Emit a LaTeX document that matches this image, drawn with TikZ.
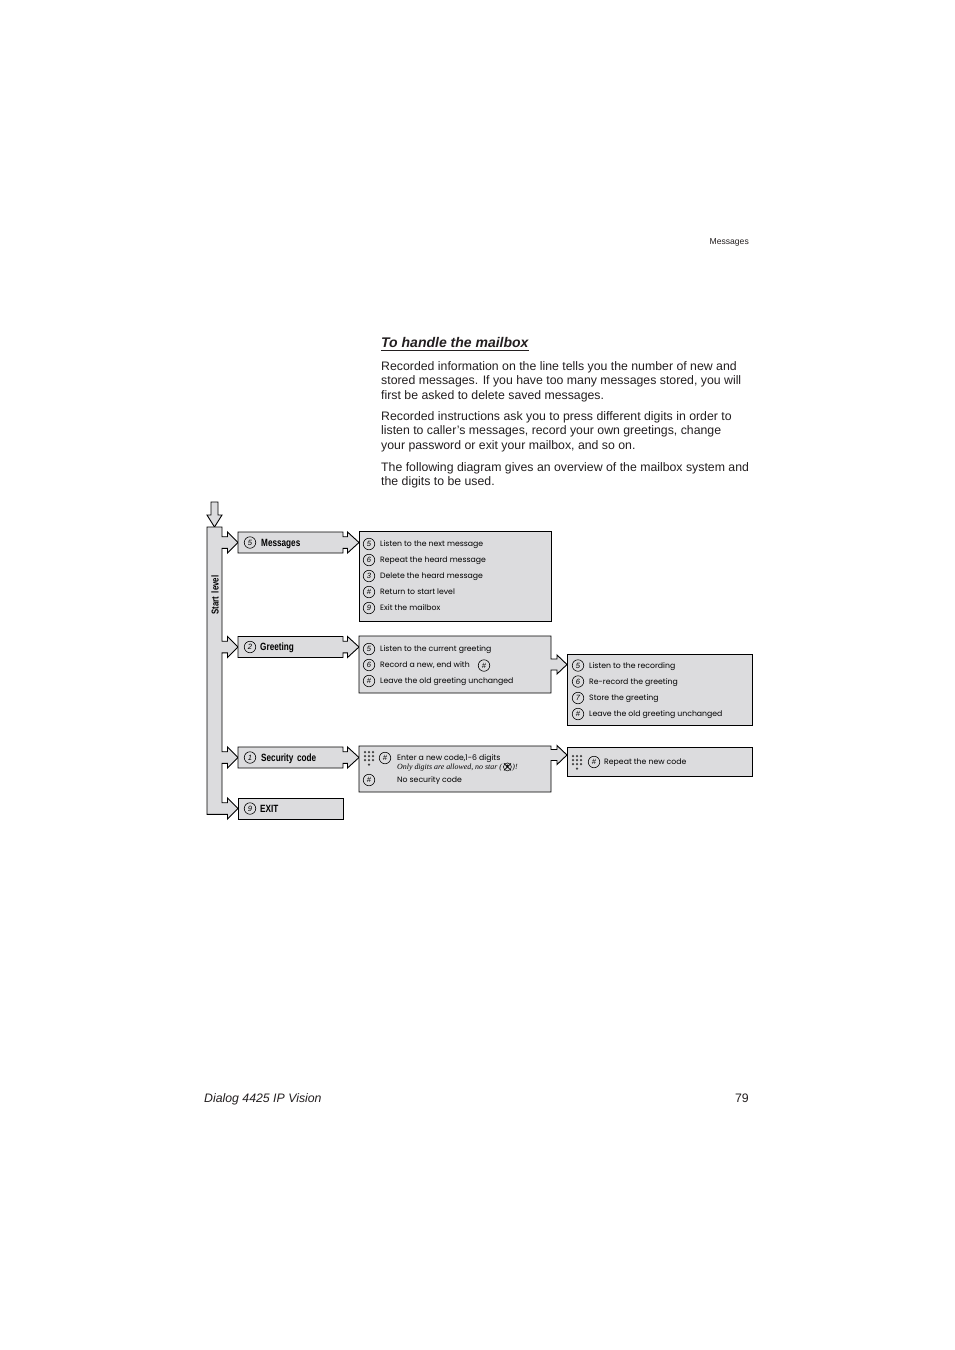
\documentclass[tikz,border=0pt]{standalone}
\usepackage{fontspec}
\setmainfont{Liberation Sans}
\newfontfamily\rowfont{Poppins}
\newfontfamily\condbold[FakeStretch=0.78]{Liberation Sans Bold}
\newfontfamily\serifit{Liberation Serif Italic}
\definecolor{ink}{HTML}{231F20}
\definecolor{boxgray}{HTML}{DCDCDE}
\definecolor{pipegray}{HTML}{DCDCDE}
\definecolor{dotgray}{HTML}{404040}
\newcommand\mykeypad[2]{%
  \foreach \dx in {-4,0,4}{\foreach \dy in {-6,-2,2}{%
    \fill[dotgray] (#1+\dx,#2+\dy) circle (1.25pt);}}%
  \fill[dotgray] (#1,#2+6.5) circle (1.25pt);}
\begin{document}
\begin{tikzpicture}[x=1pt,y=-1pt,line join=miter,
  txt/.style={anchor=base west,inner sep=0pt,font=\fontsize{12.3}{14}\selectfont,text=ink},
  row/.style={anchor=base west,inner sep=0pt,font=\rowfont\fontsize{7.75}{9}\selectfont},
  cnum/.style={circle,draw,line width=0.6pt,inner sep=0pt,minimum size=11.5pt,font=\fontsize{7.6}{8}\selectfont\itshape},
  lab/.style={anchor=base west,inner sep=0pt,font=\condbold\fontsize{10.5}{12}\selectfont},
  pipe/.style={draw,line width=0.9pt,fill=pipegray},
  boxst/.style={draw,line width=0.9pt,fill=boxgray}]
\fill[white] (0,0) rectangle (954,1350);
\useasboundingbox (0,0) rectangle (954,1350);

% header / footer
\node[anchor=base east,inner sep=0pt,font=\fontsize{8.6}{10}\selectfont,text=ink] (hdr) at (749,244) {Messages};
\node[anchor=base west,inner sep=0pt,font=\fontsize{12.3}{14}\selectfont\itshape,text=ink] (foot) at (204,1102) {Dialog 4425 IP Vision};
\node[anchor=base east,inner sep=0pt,font=\fontsize{12.3}{14}\selectfont,text=ink] (page) at (749,1102) {79};

% title and body
\node[anchor=base west,inner sep=0pt,font=\fontsize{14}{15}\selectfont\bfseries\itshape,text=ink] (title) at (381,347.5) {To handle the mailbox};
\draw[line width=0.8pt,ink] ([yshift=-3pt]title.base west) -- ([yshift=-3pt]title.base east);
\node[txt] (p1a) at (381,370.5) {Recorded information on the line tells you the number of new and};
\node[txt] (p1b) at (381,384.8) {stored messages. If you have too many messages stored, you will};
\node[txt] (p1c) at (381,399.1) {first be asked to delete saved messages.};
\node[txt] (p2a) at (381,420.6) {Recorded instructions ask you to press different digits in order to};
\node[txt] (p2b) at (381,434.9) {listen to caller's messages, record your own greetings, change};
\node[txt] (p2c) at (381,449.2) {your password or exit your mailbox, and so on.};
\node[txt] (p3a) at (381,471.5) {The following diagram gives an overview of the mailbox system and};
\node[txt] (p3b) at (381,485.8) {the digits to be used.};

% entry arrow
\draw[pipe] (211,502) -- (218,502) -- (218,515) -- (222,515) -- (214.5,527) -- (207,515) -- (211,515) -- cycle;

% start-level pipe with branches
\draw[pipe] (207,527) -- (222,527)
  -- (222,536.7) -- (227.5,536.7) -- (227.5,532) -- (238,542.5) -- (227.5,553) -- (227.5,548.3) -- (222,548.3)
  -- (222,641.2) -- (227.5,641.2) -- (227.5,636.5) -- (238,647) -- (227.5,657.5) -- (227.5,652.8) -- (222,652.8)
  -- (222,751.7) -- (227.5,751.7) -- (227.5,747) -- (238,757.5) -- (227.5,768) -- (227.5,763.3) -- (222,763.3)
  -- (222,802.7) -- (227.5,802.7) -- (227.5,798) -- (238,808.5) -- (227.5,819) -- (227.5,814.3) -- (207,814.3) -- cycle;
\node[rotate=90,inner sep=0pt,font=\condbold\fontsize{10}{12}\selectfont] (start) at (215,595) {Start\,\,level};

% left boxes with arrows
\draw[pipe] (238,532) -- (343,532) -- (343,536.7) -- (347.5,536.7) -- (347.5,532) -- (359,542.5) -- (347.5,553) -- (347.5,548.3) -- (343,548.3) -- (343,553) -- (238,553) -- cycle;
\draw[pipe] (238,636.5) -- (343,636.5) -- (343,641.2) -- (347.5,641.2) -- (347.5,636.5) -- (359,647) -- (347.5,657.5) -- (347.5,652.8) -- (343,652.8) -- (343,657.5) -- (238,657.5) -- cycle;
\draw[pipe] (238,747) -- (343,747) -- (343,751.7) -- (347.5,751.7) -- (347.5,747) -- (359,757.5) -- (347.5,768) -- (347.5,763.3) -- (343,763.3) -- (343,768) -- (238,768) -- cycle;
\draw[pipe] (238,798) rectangle (343,819);

\node[cnum] (c5a) at (250,542.5) {5};
\node[lab] (lmsg) at (261,546.3) {Messages};
\node[cnum] (c2a) at (250,647) {2};
\node[lab] (lgrt) at (260,650.8) {Greeting};
\node[cnum] (c1a) at (250,757.5) {1};
\node[lab] (lsec) at (261,761.3) {Security\,\,code};
\node[cnum] (c9a) at (250,808.5) {9};
\node[lab] (lexit) at (260,812.3) {EXIT};

% middle boxes
\draw[boxst] (359,531) rectangle (551,621);
\draw[boxst] (359,636) -- (551,636) -- (551,659) -- (557,659) -- (557,655) -- (567,664.5) -- (557,674) -- (557,670) -- (551,670) -- (551,693) -- (359,693) -- cycle;
\draw[boxst] (359,746) -- (551,746) -- (551,749.5) -- (557,749.5) -- (557,745.5) -- (567,755) -- (557,764.5) -- (557,760.5) -- (551,760.5) -- (551,792) -- (359,792) -- cycle;

% right boxes
\draw[boxst] (567,654) rectangle (752,725);
\draw[boxst] (567,747) rectangle (752,776);

% messages sub rows
\node[cnum] (m5) at (369,544) {5};
\node[row] (m5t) at (380,546.8) {Listen to the next message};
\node[cnum] (m6) at (369,560) {6};
\node[row] (m6t) at (380,562.8) {Repeat the heard message};
\node[cnum] (m3) at (369,576) {3};
\node[row] (m3t) at (380,578.8) {Delete the heard message};
\node[cnum] (mh) at (369,592) {\#};
\node[row] (mht) at (380,594.8) {Return to start level};
\node[cnum] (m9) at (369,608) {9};
\node[row] (m9t) at (380,610.8) {Exit the mailbox};

% greeting sub rows
\node[cnum] (g5) at (369,649) {5};
\node[row] (g5t) at (380,651.8) {Listen to the current greeting};
\node[cnum] (g6) at (369,665) {6};
\node[row] (g6t) at (380,667.8) {Record a new, end with};
\node[cnum] (g6h) at (484,665.5) {\#};
\node[cnum] (gh) at (369,681) {\#};
\node[row] (ght) at (380,683.8) {Leave the old greeting unchanged};

% greeting sub2 rows
\node[cnum] (r5) at (578,665.5) {5};
\node[row] (r5t) at (589,668.3) {Listen to the recording};
\node[cnum] (r6) at (578,681.5) {6};
\node[row] (r6t) at (589,684.3) {Re-record the greeting};
\node[cnum] (r7) at (578,698) {7};
\node[row] (r7t) at (589,700.8) {Store the greeting};
\node[cnum] (rh) at (578,714) {\#};
\node[row] (rht) at (589,716.8) {Leave the old greeting unchanged};

% security sub
\mykeypad{369}{758}
\node[cnum] (sh1) at (385,758) {\#};
\node[row] (s1t) at (397,760) {Enter a new code,1-6 digits};
\node[anchor=base west,inner sep=0pt,font=\serifit\fontsize{7.9}{8}\selectfont] (s2t) at (397,769.5) {Only digits are allowed, no star (};
\path (s2t.base east) ++(5.2,-2.6) coordinate (ic);
\draw[line width=0.5pt] (ic) circle (4pt);
\node[inner sep=0pt,font=\fontsize{8}{8}\selectfont\bfseries] (star) at ([yshift=-1.2pt]ic) {*};
\draw[line width=0.7pt] ([shift={(-3.5pt,3.5pt)}]ic) -- ([shift={(3.5pt,-3.5pt)}]ic)
                        ([shift={(3.5pt,3.5pt)}]ic) -- ([shift={(-3.5pt,-3.5pt)}]ic);
\node[anchor=base west,inner sep=0pt,font=\serifit\fontsize{7.9}{8}\selectfont] (s2e) at ([xshift=10pt]s2t.base east) {)!};
\node[cnum] (sh2) at (369,780) {\#};
\node[row] (s3t) at (397,782.8) {No security code};

% security sub2
\mykeypad{577}{762}
\node[cnum] (qh) at (594,762) {\#};
\node[row] (qt) at (604,764.8) {Repeat the new code};
\end{tikzpicture}
\end{document}
